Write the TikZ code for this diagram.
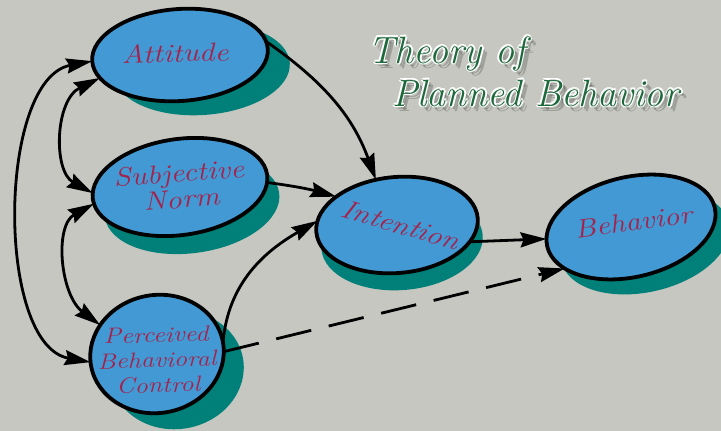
\documentclass[tikz,border=0pt]{standalone}
\usepackage[T1,TU]{fontenc}
\usetikzlibrary{shapes.geometric,arrows.meta}
% a calligraphic hand if one is installed, otherwise Latin Modern italic
\IfFileExists{t1pzc.fd}{%
  \IfFileExists{uzcmi8t.tfm}{%
    \newcommand\handfont{\fontencoding{T1}\fontfamily{pzc}\fontseries{mb}\fontshape{it}\selectfont}%
  }{\newcommand\handfont{\itshape}}%
}{\newcommand\handfont{\itshape}}
\definecolor{bg}{RGB}{197,199,192}
\definecolor{blobblue}{RGB}{66,153,212}
\definecolor{blobshade}{RGB}{0,128,120}
\definecolor{labelred}{RGB}{165,35,75}
\definecolor{titlegreen}{RGB}{30,105,60}
% soft grey drop shadow and white halo behind one title line
\newcommand\titlehalo[3]{%
  \foreach \s in {3,5}
    \node[titletext, text=black, opacity=0.2] at ({#1+\s},{#2+\s}) {#3};
  \foreach \ang in {0,60,...,300}
    \node[titletext, text=white] at ({#1+1.4*cos(\ang)},{#2+1.4*sin(\ang)}) {#3};
}
\begin{document}
\begin{tikzpicture}[x=1pt,y=-1pt,
  blob/.style={ellipse, draw=black, line width=3.8pt, fill=blobblue, inner sep=0pt, outer sep=0pt},
  blobshadow/.style={ellipse, fill=blobshade, draw=none, inner sep=0pt},
  lbl/.style={font=\handfont\fontsize{26}{26}\selectfont, text=labelred, align=center, xscale=1.2},
  titletext/.style={font=\handfont\fontsize{38}{38}\selectfont, anchor=base west, inner sep=0pt},
  link/.style={line width=2.8pt, -{Stealth[length=26pt,width=15pt,inset=3pt]}},
  twoway/.style={line width=2.8pt, {Stealth[length=26pt,width=15pt,inset=3pt]}-{Stealth[length=26pt,width=15pt,inset=3pt]}},
  dashlink/.style={link, dash pattern=on 36pt off 18pt},
]
\fill[bg] (0,0) rectangle (721,431);
\useasboundingbox (0,0) rectangle (721,431);

% shadows under the blobs
\node[blobshadow, minimum width=176pt, minimum height=92pt, rotate=4]  at (202,69)  {};
\node[blobshadow, minimum width=176pt, minimum height=96pt, rotate=8]  at (192,205) {};
\node[blobshadow, minimum width=134pt, minimum height=118pt, rotate=10] at (177,370) {};
\node[blobshadow, minimum width=162pt, minimum height=96pt, rotate=5]  at (402,242) {};
\node[blobshadow, minimum width=172pt, minimum height=100pt, rotate=13] at (645,242) {};

% the constructs
\node[blob, minimum width=176pt, minimum height=92pt, rotate=4]  (att) at (180,55)  {};
\node[blob, minimum width=176pt, minimum height=96pt, rotate=8]  (sn)  at (180,187) {};
\node[blob, minimum width=134pt, minimum height=118pt, rotate=10] (pbc) at (157,354) {};
\node[blob, minimum width=162pt, minimum height=96pt, rotate=5]  (int) at (397,225) {};
\node[blob, minimum width=172pt, minimum height=100pt, rotate=13] (beh) at (631,227) {};

\node[lbl, rotate=2] (attl) at (175,53) {Attitude};
\node[lbl, rotate=5] (snl) at (180,186) {Subjective\\Norm};
\node[lbl, font=\handfont\fontsize{22}{25}\selectfont, rotate=2] (pbcl) at (157,360) {Perceived\\Behavioral\\Control};
\node[lbl, rotate=-19] (intl) at (401,225) {Intention};
\node[lbl, rotate=9]  (behl) at (633,222) {Behavior};

% title
\titlehalo{368}{63}{Theory of}
\titlehalo{392}{106}{Planned Behavior}
\node[titletext, text=titlegreen] (title1) at (368,63)  {Theory of};
\node[titletext, text=titlegreen] (title2) at (392,106) {Planned Behavior};

% paths into intention and behaviour
\draw[link] (att.5) to[out=-35,in=110] (int.110);
\draw[link] (sn.-5) to[bend left=4] (int.150);
\draw[link] (pbc.0) to[out=85,in=210] (int.172);
\draw[link] (int.-18) -- (beh.175);
\draw[dashlink] (pbc.-8) -- (beh.199);

% correlations among the three antecedents
\draw[twoway] (att.180) .. controls +(-95,18) and +(-95,-17) .. (pbc.177);
\draw[twoway] (att.192) .. controls +(-45,22) and +(-40,-22) .. (sn.176);
\draw[twoway] (sn.183) .. controls +(-40,22) and +(-40,-30) .. (pbc.143);
\end{tikzpicture}
\end{document}
